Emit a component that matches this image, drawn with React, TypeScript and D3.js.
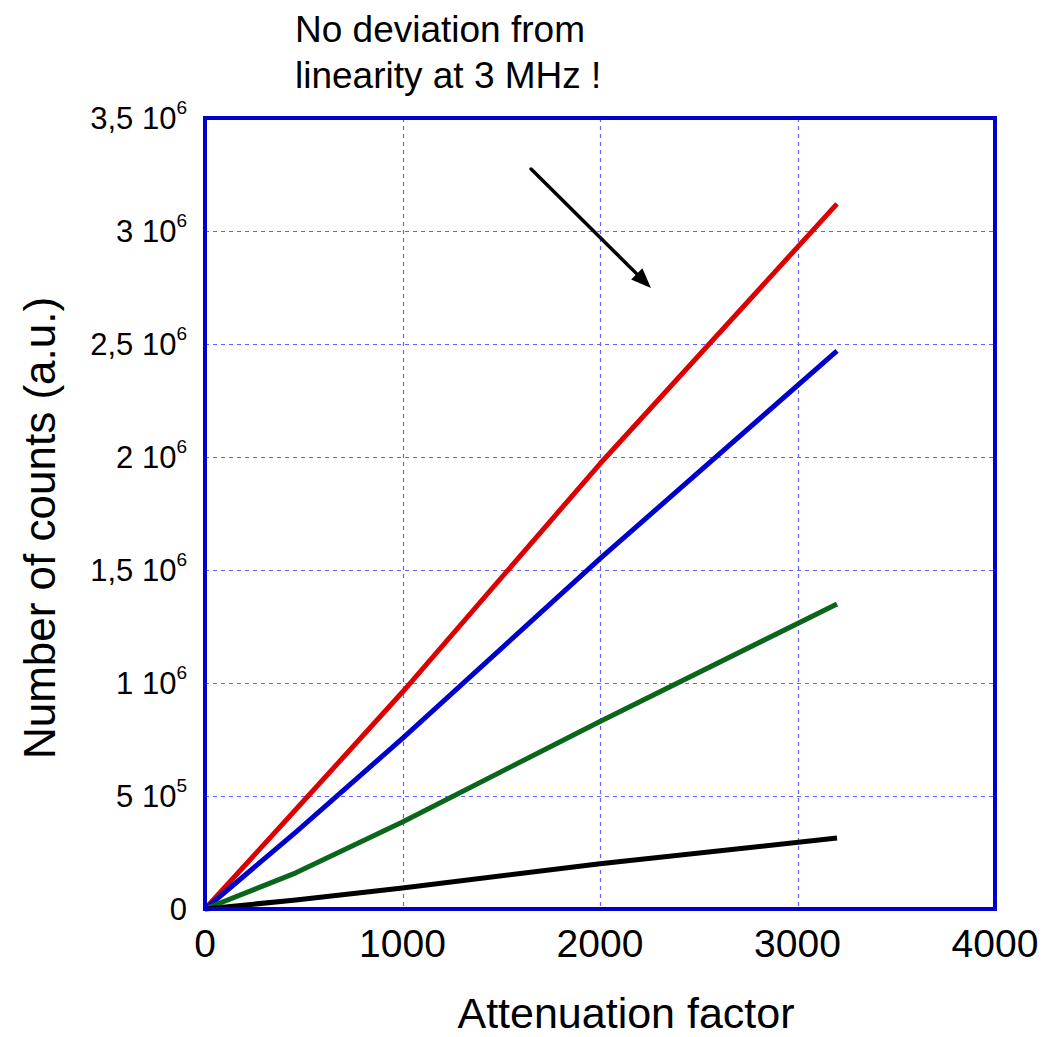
import React, { useEffect, useRef } from 'react'
import * as d3 from 'd3'

// attenuation factor at which counts were recorded
const attenuation = [0, 460, 1000, 2000, 3200]

// number of counts per run (a.u.)
const redCounts = [0, 0.44e6, 0.96e6, 1.97e6, 3.12e6]
const blueCounts = [0, 0.34e6, 0.755e6, 1.55e6, 2.47e6]
const greenCounts = [0, 0.16e6, 0.385e6, 0.83e6, 1.35e6]
const blackCounts = [0, 0.04e6, 0.093e6, 0.2e6, 0.314e6]

const seriesColors = ['#dd0000', '#0000cc', '#0a661a', '#000000']

const xTicks = [0, 1000, 2000, 3000, 4000]
const yTicks = [0, 0.5e6, 1e6, 1.5e6, 2e6, 2.5e6, 3e6, 3.5e6]
const yTickMantissa = ['0', '5', '1', '1,5', '2', '2,5', '3', '3,5']
const yTickExponent = ['', '5', '6', '6', '6', '6', '6', '6']

// arrow annotation, in data units
const arrowFrom = [1651, 3.274e6]
const arrowTo = [2258, 2.748e6]

const titleLines = ['No deviation from', 'linearity at 3 MHz !']

const App = () => {
  const ref = useRef<SVGSVGElement>(null)

  useEffect(() => {
    const width = 1044
    const height = 1037
    const left = 205
    const top = 118
    const right = 995
    const bottom = 909
    const font = '"Liberation Sans", Arial, sans-serif'

    const svg = d3.select(ref.current)
    svg.selectAll('*').remove()
    svg.attr('width', width).attr('height', height)

    const x = d3.scaleLinear().domain([0, 4000]).range([left, right])
    const y = d3.scaleLinear().domain([0, 3.5e6]).range([bottom, top])

    // grid
    const grid = svg.append('g')
    grid
      .selectAll('line.v')
      .data(xTicks.slice(1, -1))
      .enter()
      .append('line')
      .attr('x1', (d) => Math.round(x(d)) + 0.5)
      .attr('x2', (d) => Math.round(x(d)) + 0.5)
      .attr('y1', top)
      .attr('y2', bottom)
      .attr('stroke', '#6464f0')
      .attr('stroke-width', 1.2)
      .attr('stroke-dasharray', '4,4')
    grid
      .selectAll('line.h')
      .data(yTicks.slice(1, -1))
      .enter()
      .append('line')
      .attr('x1', left)
      .attr('x2', right)
      .attr('y1', (d) => Math.round(y(d)) + 0.5)
      .attr('y2', (d) => Math.round(y(d)) + 0.5)
      .attr('stroke', '#6464f0')
      .attr('stroke-width', 1.2)
      .attr('stroke-dasharray', '4,4')

    // series
    const line = d3
      .line<number>()
      .x((_, i) => x(attenuation[i]))
      .y((d) => y(d))
    ;[redCounts, blueCounts, greenCounts, blackCounts].forEach((values, i) => {
      svg
        .append('path')
        .attr('d', line(values))
        .attr('fill', 'none')
        .attr('stroke', seriesColors[i])
        .attr('stroke-width', 5)
        .attr('stroke-linejoin', 'round')
    })

    // frame
    svg
      .append('rect')
      .attr('x', left)
      .attr('y', top)
      .attr('width', right - left)
      .attr('height', bottom - top)
      .attr('fill', 'none')
      .attr('stroke', '#0000cc')
      .attr('stroke-width', 4)

    // x tick labels
    svg
      .selectAll('text.xt')
      .data(xTicks)
      .enter()
      .append('text')
      .attr('x', (d) => x(d))
      .attr('y', 957)
      .attr('text-anchor', 'middle')
      .attr('font-family', font)
      .attr('font-size', 39)
      .text((d) => d)

    // y tick labels with powers of ten
    const yLabels = svg
      .selectAll('text.yt')
      .data(yTicks)
      .enter()
      .append('text')
      .attr('x', 187)
      .attr('y', (d) => y(d) + 11)
      .attr('text-anchor', 'end')
      .attr('font-family', font)
      .attr('font-size', 31)
    yLabels
      .append('tspan')
      .text((_, i) => (yTickExponent[i] ? `${yTickMantissa[i]} 10` : yTickMantissa[i]))
    yLabels
      .filter((_, i) => yTickExponent[i] !== '')
      .append('tspan')
      .attr('dy', -15)
      .attr('font-size', 19)
      .text((d) => yTickExponent[yTicks.indexOf(d as number)])

    // axis titles
    svg
      .append('text')
      .attr('x', 626)
      .attr('y', 1028)
      .attr('text-anchor', 'middle')
      .attr('font-family', font)
      .attr('font-size', 43)
      .text('Attenuation factor')
    svg
      .append('text')
      .attr('transform', 'translate(55,528) rotate(-90)')
      .attr('text-anchor', 'middle')
      .attr('font-family', font)
      .attr('font-size', 44)
      .text('Number of counts (a.u.)')

    // annotation
    svg
      .selectAll('text.title')
      .data(titleLines)
      .enter()
      .append('text')
      .attr('x', 295)
      .attr('y', (_, i) => 42 + i * 46)
      .attr('font-family', font)
      .attr('font-size', 37)
      .text((d) => d)

    const x1 = x(arrowFrom[0])
    const y1 = y(arrowFrom[1])
    const x2 = x(arrowTo[0])
    const y2 = y(arrowTo[1])
    const angle = Math.atan2(y2 - y1, x2 - x1)
    const headLen = 20
    const headHalf = 8
    const bx = x2 - headLen * Math.cos(angle)
    const by = y2 - headLen * Math.sin(angle)
    svg
      .append('line')
      .attr('x1', x1)
      .attr('y1', y1)
      .attr('x2', bx)
      .attr('y2', by)
      .attr('stroke', '#000')
      .attr('stroke-width', 3.5)
      .attr('stroke-linecap', 'round')
    svg
      .append('polygon')
      .attr(
        'points',
        [
          [x2, y2],
          [bx + headHalf * Math.sin(angle), by - headHalf * Math.cos(angle)],
          [bx - headHalf * Math.sin(angle), by + headHalf * Math.cos(angle)],
        ]
          .map((p) => p.join(','))
          .join(' ')
      )
      .attr('fill', '#000')
  }, [])

  return (
    <div style={{ position: 'absolute', left: 0, top: 0 }}>
      <svg ref={ref} />
    </div>
  )
}

export default App
